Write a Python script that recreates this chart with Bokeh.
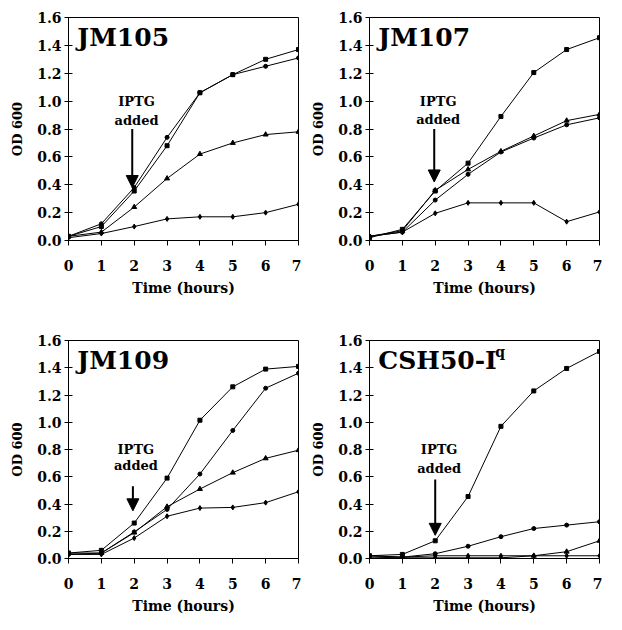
from bokeh.plotting import figure
from bokeh.layouts import column, row
from bokeh.models import Range1d, FixedTicker, NumeralTickFormatter, Label, Arrow, NormalHead
from bokeh.embed import file_html
from bokeh.resources import INLINE

hours = [0, 1, 2, 3, 4, 5, 6, 7]
x_ticks = [0, 1, 2, 3, 4, 5, 6, 7]
y_ticks = [0.0, 0.2, 0.4, 0.6, 0.8, 1.0, 1.2, 1.4, 1.6]

jm105_sq = [0.03, 0.10, 0.355, 0.68, 1.06, 1.19, 1.30, 1.37]
jm105_ci = [0.03, 0.12, 0.38, 0.74, 1.06, 1.19, 1.25, 1.31]
jm105_tr = [0.03, 0.06, 0.24, 0.445, 0.62, 0.70, 0.76, 0.78]
jm105_di = [0.02, 0.05, 0.10, 0.155, 0.17, 0.17, 0.20, 0.26]

jm107_sq = [0.02, 0.08, 0.355, 0.555, 0.89, 1.205, 1.37, 1.455]
jm107_tr = [0.03, 0.07, 0.36, 0.51, 0.64, 0.75, 0.86, 0.905]
jm107_ci = [0.03, 0.06, 0.29, 0.475, 0.635, 0.735, 0.83, 0.88]
jm107_di = [0.03, 0.06, 0.195, 0.27, 0.27, 0.27, 0.135, 0.205]

jm109_sq = [0.04, 0.06, 0.26, 0.59, 1.015, 1.26, 1.39, 1.41]
jm109_ci = [0.03, 0.04, 0.195, 0.36, 0.62, 0.94, 1.25, 1.36]
jm109_tr = [0.04, 0.04, 0.19, 0.38, 0.51, 0.63, 0.735, 0.795]
jm109_di = [0.03, 0.03, 0.15, 0.31, 0.37, 0.375, 0.41, 0.49]

csh_sq = [0.02, 0.03, 0.13, 0.455, 0.97, 1.23, 1.395, 1.52]
csh_ci = [0.02, 0.01, 0.035, 0.09, 0.16, 0.22, 0.245, 0.27]
csh_tr = [0.01, 0.005, 0.005, 0.005, 0.005, 0.02, 0.05, 0.13]
csh_di = [0.02, 0.01, 0.02, 0.02, 0.02, 0.02, 0.02, 0.02]

FONT = "DejaVu Serif"


def make_panel(title, series, arrow, iptg, height, bottom, sup=None):
    p = figure(width=301, height=height, output_backend="svg", toolbar_location=None,
               x_range=Range1d(0, 7), y_range=Range1d(0, 1.6),
               min_border_left=68, min_border_right=3, min_border_top=17,
               min_border_bottom=bottom)
    p.xgrid.visible = False
    p.ygrid.visible = False
    p.outline_line_color = "black"
    p.outline_line_width = 1
    p.outline_line_alpha = 1
    p.background_fill_color = "white"
    p.border_fill_color = "white"

    for ax in (p.xaxis[0], p.yaxis[0]):
        ax.axis_line_color = "black"
        ax.major_tick_line_color = "black"
        ax.minor_tick_line_color = None
        ax.major_label_text_font = FONT
        ax.major_label_text_font_style = "bold"
        ax.major_label_text_font_size = "14px"
        ax.major_label_text_color = "black"
        ax.axis_label_text_font = FONT
        ax.axis_label_text_font_style = "bold"
        ax.axis_label_text_font_size = "14px"
        ax.axis_label_text_color = "black"

    p.xaxis.ticker = FixedTicker(ticks=x_ticks)
    p.yaxis.ticker = FixedTicker(ticks=y_ticks)
    p.yaxis.formatter = NumeralTickFormatter(format="0.0")
    p.xaxis.axis_label = "Time (hours)"
    p.yaxis.axis_label = "OD 600"
    p.yaxis.axis_label_text_font_size = "13px"
    p.xaxis.major_tick_in = 0
    p.xaxis.major_tick_out = 5
    p.yaxis.major_tick_in = 4
    p.yaxis.major_tick_out = 4
    p.xaxis.major_label_standoff = 14
    p.yaxis.major_label_standoff = 3
    p.xaxis.axis_label_standoff = 6
    p.yaxis.axis_label_standoff = 9

    for ys, marker, size in series:
        p.line(hours, ys, line_color="black", line_width=1)
        p.scatter(hours, ys, marker=marker, size=size, fill_color="black", line_color="black")

    p.add_layout(Label(x=0.27, y=1.56, text=title, text_font=FONT, text_font_style="bold",
                       text_font_size="25px", text_baseline="top", text_color="black"))
    if sup:
        p.add_layout(Label(x=0.27, y=1.56, x_offset=117, y_offset=2, text=sup, text_font=FONT,
                           text_font_style="bold", text_font_size="14px", text_baseline="top",
                           text_color="black"))

    ax_x, ay0, ay1 = arrow
    p.add_layout(Arrow(end=NormalHead(size=12, fill_color="black", line_color="black"),
                       x_start=ax_x, y_start=ay0, x_end=ax_x, y_end=ay1,
                       line_width=2, line_color="black"))
    tx, ty1, ty2 = iptg
    for yy, t in ((ty1, "IPTG"), (ty2, "added")):
        p.add_layout(Label(x=tx, y=yy, text=t, text_font=FONT, text_font_style="bold",
                           text_font_size="13px", text_align="center", text_baseline="middle",
                           text_color="black"))
    return p


p1 = make_panel("JM105",
                [(jm105_sq, "square", 4), (jm105_ci, "circle", 4),
                 (jm105_tr, "triangle", 5), (jm105_di, "diamond", 5)],
                (1.94, 0.80, 0.38), (2.07, 1.00, 0.86), 323, 83)
p2 = make_panel("JM107",
                [(jm107_sq, "square", 4), (jm107_tr, "triangle", 5),
                 (jm107_ci, "circle", 4), (jm107_di, "diamond", 5)],
                (1.97, 0.80, 0.42), (2.09, 1.00, 0.865), 323, 83)
p3 = make_panel("JM109",
                [(jm109_sq, "square", 4), (jm109_ci, "circle", 4),
                 (jm109_tr, "triangle", 5), (jm109_di, "diamond", 5)],
                (1.96, 0.53, 0.35), (2.05, 0.80, 0.68), 293, 53)
p4 = make_panel("CSH50-I",
                [(csh_sq, "square", 4), (csh_ci, "circle", 4),
                 (csh_tr, "triangle", 5), (csh_di, "diamond", 5)],
                (2.0, 0.58, 0.17), (2.12, 0.80, 0.66), 293, 53, sup="q")

layout = column(row(p1, p2), row(p3, p4))
open("out.html", "w").write(file_html(layout, INLINE))
